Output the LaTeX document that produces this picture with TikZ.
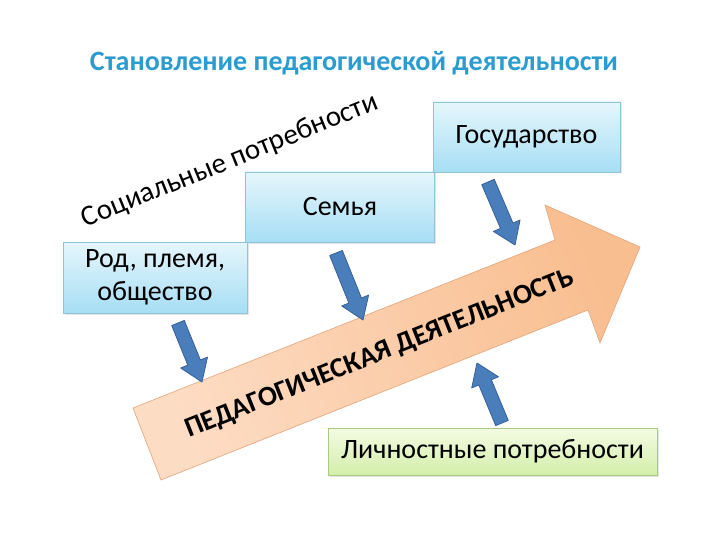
\documentclass[tikz,border=0pt]{standalone}
\usepackage{fontspec}
\setmainfont{Carlito}
\usetikzlibrary{calc,shadows}
\definecolor{titleblue}{HTML}{2A9CCF}
\definecolor{boxtop}{HTML}{E6F6FC}
\definecolor{boxbot}{HTML}{A6DEF4}
\definecolor{boxline}{HTML}{8FC3DA}
\definecolor{greentop}{HTML}{F4FBE3}
\definecolor{greenbot}{HTML}{D3EEAA}
\definecolor{greenline}{HTML}{A9C983}
\definecolor{peachl}{HTML}{FDDCC4}
\definecolor{peachd}{HTML}{F9BE90}
\definecolor{peachline}{HTML}{E3A47A}
\definecolor{arrfill}{HTML}{4A7EBB}
\definecolor{arrline}{HTML}{36609A}
\tikzset{
  bluebox/.style={draw=boxline, line width=0.8pt, top color=boxtop, bottom color=boxbot,
     align=center, inner sep=0pt, font=\fontsize{28}{33}\selectfont,
     drop shadow={opacity=0.2, shadow xshift=1.5pt, shadow yshift=-1.5pt}},
  greenbox/.style={draw=greenline, line width=0.8pt, top color=greentop, bottom color=greenbot,
     align=center, inner sep=0pt, font=\fontsize{28}{30}\selectfont,
     drop shadow={opacity=0.2, shadow xshift=1.5pt, shadow yshift=-1.5pt}},
  barrow/.style={fill=arrfill, draw=arrline, line width=0.8pt, line join=round},
  bigarrow/.style={draw=peachline, line width=0.6pt, left color=peachl, right color=peachd, shading angle=112}
}
\newcommand\blkarrow[2]{%
  \coordinate (hb) at ($(#2)!21pt!(#1)$);
  \path[barrow] ($(#1)!6.8pt!90:(#2)$) -- ($(hb)!6.8pt!90:(#2)$) -- ($(hb)!14.5pt!90:(#2)$)
     -- (#2) -- ($(hb)!14.5pt!-90:(#2)$) -- ($(hb)!6.8pt!-90:(#2)$) -- ($(#1)!6.8pt!-90:(#2)$) -- cycle;}
\begin{document}
\begin{tikzpicture}[x=1pt,y=-1pt]
\useasboundingbox (0,0) rectangle (720,540);
\fill[white] (0,0) rectangle (720,540);
% title
\node[font=\fontsize{28}{32}\selectfont\bfseries, text=titleblue] (title) at (354,63) {Становление педагогической деятельности};
% big arrow
\path[bigarrow] (133,408) -- (555,240) -- (545,205) -- (640,247) -- (600,343) -- (588,310) -- (161,480) -- cycle;
\node[rotate=21.8, font=\fontsize{28}{30}\selectfont\bfseries] (main) at (380,354) {ПЕДАГОГИЧЕСКАЯ ДЕЯТЕЛЬНОСТЬ};
% social needs
\node[rotate=22, font=\fontsize{29}{30}\selectfont] (social) at (230,161) {Социальные потребности};
% boxes
\node[bluebox, minimum width=189pt, minimum height=70pt] (fam) at (340,207) {Семья};
\node[bluebox, minimum width=187pt, minimum height=70pt] (state) at (526.5,137) {Государство};
\node[bluebox, minimum width=184pt, minimum height=71pt] (rod) at (155,277.5) {Род, племя,\\общество};
\node[greenbox, minimum width=329pt, minimum height=47pt] (pers) at (492.5,451.5) {Личностные потребности};
% blue arrows
\coordinate (a1) at (178,323); \coordinate (b1) at (202,382);
\coordinate (a2) at (336,253); \coordinate (b2) at (363,320);
\coordinate (a3) at (488,182); \coordinate (b3) at (515,245);
\coordinate (a4) at (502,423); \coordinate (b4) at (477,363);
\blkarrow{a1}{b1}
\blkarrow{a2}{b2}
\blkarrow{a3}{b3}
\blkarrow{a4}{b4}
\end{tikzpicture}
\end{document}
